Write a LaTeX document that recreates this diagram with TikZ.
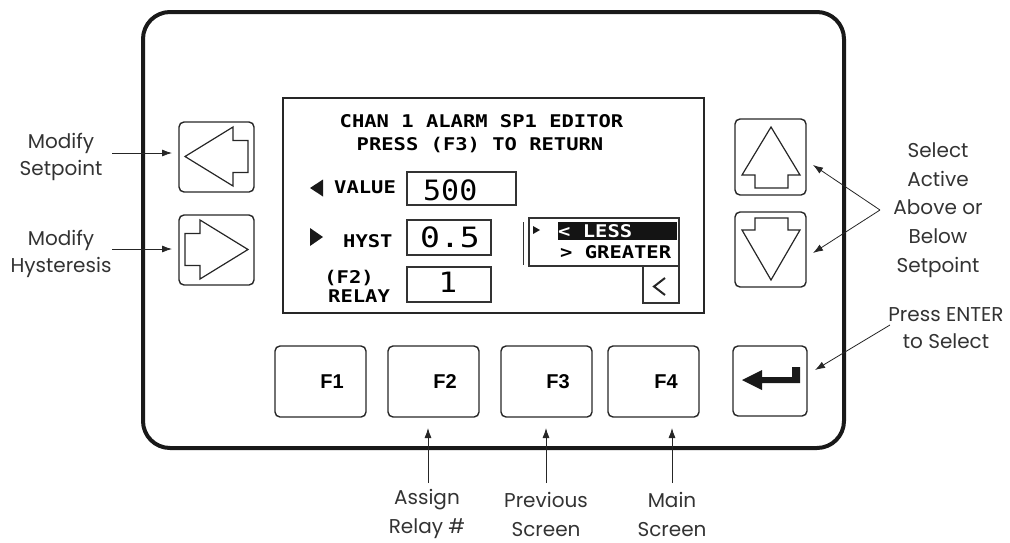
\documentclass[tikz,border=0pt]{standalone}
\usepackage{fontspec}
\setmainfont{Poppins}
\newfontfamily\lcdfont{DejaVu Sans Mono}
\newfontfamily\keyfont{Liberation Sans}
\usetikzlibrary{arrows.meta}
\newcommand\lcdtxt[1]{\scalebox{1.17}[1]{\lcdfont\bfseries\fontsize{17.5}{19}\selectfont #1}}
\newcommand\lcdbig[2]{\scalebox{#1}[1]{\lcdfont\fontsize{28}{30}\selectfont #2}}
\tikzset{
  frame/.style={draw=black!90, line width=4pt, rounded corners=27pt},
  key/.style={draw=black!85, line width=1.4pt, rounded corners=5pt, inner sep=0pt},
  keylabel/.style={font=\keyfont\bfseries\fontsize{20}{22}\selectfont, inner sep=0pt},
  glyph/.style={draw=black!85, line width=1.2pt, line join=miter},
  screen/.style={draw=black!85, line width=2pt},
  field/.style={draw=black!80, line width=1.4pt},
  lcd/.style={inner sep=0pt, anchor=base west},
  lbl/.style={font=\fontsize{20}{27}\selectfont, align=center, inner sep=0pt, text=black!80},
  callout/.style={draw=black!85, line width=0.8pt, -{Latex[length=10pt,width=7pt]}}
}
\begin{document}
\begin{tikzpicture}[x=1pt,y=-1pt]
\useasboundingbox (0,0) rectangle (1010,542);
% outer frame
\draw[frame] (143,12) rectangle (844,448);
% screen
\draw[screen] (283,98) rectangle (704,313);
% side keys
\node[key, minimum width=75pt, minimum height=70pt] (kleft) at (216.5,157) {};
\node[key, minimum width=75pt, minimum height=70pt] (kright) at (216.5,250) {};
\node[key, minimum width=71pt, minimum height=76pt] (kup) at (770.5,157) {};
\node[key, minimum width=71pt, minimum height=75pt] (kdown) at (770.5,249.5) {};
\node[key, minimum width=74pt, minimum height=70pt] (kenter) at (770,381) {};
% key glyphs
\draw[glyph] (185,156.5) -- (233,127) -- (233,140.5) -- (248,140.5) -- (248,172.5) -- (233,172.5) -- (233,186) -- cycle;
\draw[glyph] (248,249.5) -- (200,220) -- (200,233.5) -- (185,233.5) -- (185,265.5) -- (200,265.5) -- (200,279) -- cycle;
\draw[glyph] (771,127) -- (800,175) -- (788,175) -- (788,188) -- (755,188) -- (755,175) -- (742,175) -- cycle;
\draw[glyph] (771,280) -- (800,230) -- (788,230) -- (788,218) -- (755,218) -- (755,230) -- (742,230) -- cycle;
\fill[black!90] (742,380) -- (762,370) -- (762,377) -- (792,377) -- (792,367) -- (800,367) -- (800,383) -- (762,383) -- (762,390) -- cycle;
% function keys
\node[key, minimum width=91pt, minimum height=71pt] (f1) at (320.5,381.5) {};
\node[key, minimum width=91pt, minimum height=71pt] (f2) at (433.5,381.5) {};
\node[key, minimum width=91pt, minimum height=71pt] (f3) at (546.5,381.5) {};
\node[key, minimum width=91pt, minimum height=71pt] (f4) at (653.5,381.5) {};
\node[keylabel] (f1t) at (332,382) {F1};
\node[keylabel] (f2t) at (445,382) {F2};
\node[keylabel] (f3t) at (558,382) {F3};
\node[keylabel] (f4t) at (666,382) {F4};
% LCD content
\node[inner sep=0pt, anchor=base] (title1) at (481.5,127.5) {\lcdtxt{CHAN 1 ALARM SP1 EDITOR}};
\node[inner sep=0pt, anchor=base] (title2) at (480,150) {\lcdtxt{PRESS (F3) TO RETURN}};
\fill[black!90] (310,188) -- (323,179.5) -- (323,196.5) -- cycle;
\node[lcd] (valuel) at (334,193) {\lcdtxt{VALUE}};
\draw[field] (407,172) rectangle (516,205);
\node[lcd] (valuev) at (423,200) {\lcdbig{1.07}{500}};
\fill[black!90] (323,237) -- (310,228) -- (310,246) -- cycle;
\node[lcd] (hystl) at (343,247.5) {\lcdtxt{HYST}};
\draw[field] (407,220) rectangle (491,255);
\node[lcd] (hystv) at (420,247) {\lcdbig{1.18}{0.5}};
\node[inner sep=0pt, anchor=base] (f2l) at (349,283.5) {\lcdtxt{(F2)}};
\node[lcd] (relayl) at (328,302) {\lcdtxt{RELAY}};
\draw[field] (407,267) rectangle (491,302);
\node[inner sep=0pt, anchor=base] (relayv) at (448,292) {\lcdbig{1.1}{1}};
% selection list
\draw[field, line width=1pt] (523,222) -- (523,265);
\draw[field] (529,218) rectangle (679,266);
\fill[black!92] (558,222) rectangle (677,240);
\fill[black!90] (533,226) -- (540,230) -- (533,234) -- cycle;
\node[lcd, text=white] (less) at (558,237.5) {\lcdtxt{< LESS}};
\node[lcd] (greater) at (560,258) {\lcdtxt{> GREATER}};
\draw[field] (643,266) rectangle (679,303);
\draw[line width=2pt, black!85] (665,278) -- (654,286.5) -- (665,295);
% labels
\node[lbl] (lsp) at (61,157) {Modify\\Setpoint};
\node[lbl] (lhy) at (61,254) {Modify\\Hysteresis};
\node[lbl, font=\fontsize{20}{28.7}\selectfont] (lsel) at (938,210) {Select\\Active\\Above or\\Below\\Setpoint};
\node[lbl] (lent) at (946,328) {Press ENTER\\to Select};
\node[lbl, font=\fontsize{20}{29}\selectfont] (lf2) at (427,514) {Assign\\Relay \#};
\node[lbl, font=\fontsize{20}{29}\selectfont] (lf3) at (546,514) {Previous\\Screen};
\node[lbl, font=\fontsize{20}{29}\selectfont] (lf4) at (672,514) {Main\\Screen};
% callout coordinates
\coordinate (csp) at (112,153);
\coordinate (csp2) at (172,153);
\coordinate (chy) at (112,249);
\coordinate (chy2) at (172,249);
\coordinate (csel) at (880,210);
\coordinate (cup) at (813,165);
\coordinate (cdn) at (813,253);
\coordinate (cent) at (890,325);
\coordinate (cent2) at (815,370);
\coordinate (cf2) at (428,483);
\coordinate (cf2b) at (428,428);
\coordinate (cf3) at (546,483);
\coordinate (cf3b) at (546,428);
\coordinate (cf4) at (672,483);
\coordinate (cf4b) at (672,428);
\draw[callout] (csp) -- (csp2);
\draw[callout] (chy) -- (chy2);
\draw[callout] (csel) -- (cup);
\draw[callout] (csel) -- (cdn);
\draw[callout] (cent) -- (cent2);
\draw[callout] (cf2) -- (cf2b);
\draw[callout] (cf3) -- (cf3b);
\draw[callout] (cf4) -- (cf4b);
\end{tikzpicture}
\end{document}
